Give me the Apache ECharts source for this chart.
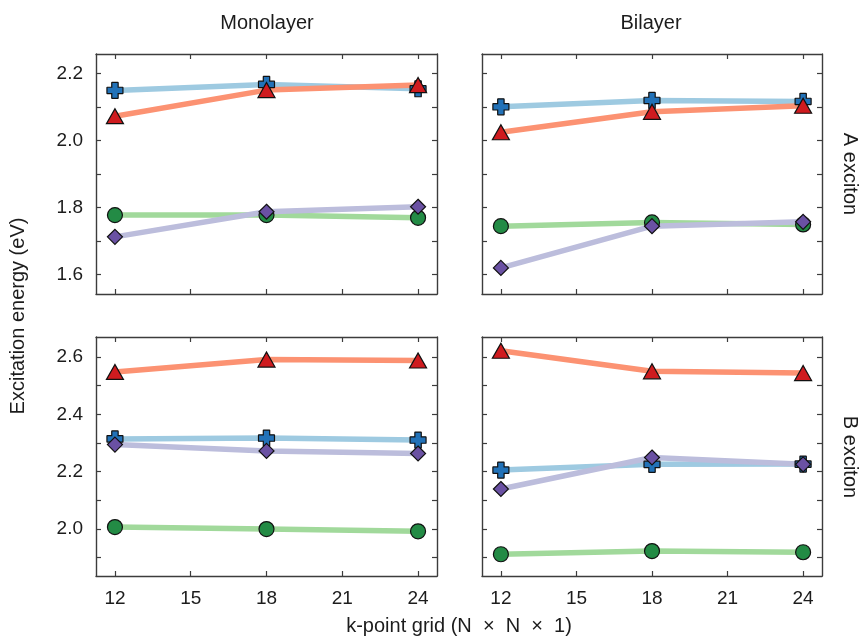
<!DOCTYPE html>
<html>
<head>
<meta charset="utf-8">
<title>Excitation energy convergence</title>
<script src="https://cdn.jsdelivr.net/npm/echarts@6/dist/echarts.min.js"></script>
<style>
  html, body { margin: 0; padding: 0; background: #ffffff; }
  #chart { width: 865px; height: 639px; }
</style>
</head>
<body>
<div id="chart"></div>
<script>
// k-point grid sizes (N x N x 1)
const kGrid = [12, 18, 24];
const xTicks = [12, 15, 18, 21, 24];

// y tick labels and tick marks for the A-exciton and B-exciton rows
const yLabelsA = [1.6, 1.8, 2.0, 2.2];
const yTicksA = [1.6, 1.7, 1.8, 1.9, 2.0, 2.1, 2.2];
const yLabelsB = [2.0, 2.2, 2.4, 2.6];
const yTicksB = [1.9, 2.0, 2.1, 2.2, 2.3, 2.4, 2.5, 2.6];

// Monolayer, A exciton (eV)
const monoA_cross = [2.150, 2.168, 2.155];
const monoA_tri   = [2.073, 2.151, 2.166];
const monoA_circ  = [1.777, 1.777, 1.769];
const monoA_diam  = [1.712, 1.787, 1.802];

// Bilayer, A exciton (eV)
const biA_cross = [2.101, 2.120, 2.117];
const biA_tri   = [2.025, 2.086, 2.104];
const biA_circ  = [1.744, 1.755, 1.749];
const biA_diam  = [1.619, 1.744, 1.757];

// Monolayer, B exciton (eV)
const monoB_cross = [2.314, 2.317, 2.310];
const monoB_tri   = [2.548, 2.591, 2.588];
const monoB_circ  = [2.006, 1.999, 1.991];
const monoB_diam  = [2.294, 2.272, 2.263];

// Bilayer, B exciton (eV)
const biB_cross = [2.205, 2.225, 2.226];
const biB_tri   = [2.622, 2.550, 2.544];
const biB_circ  = [1.911, 1.922, 1.918];
const biB_diam  = [2.139, 2.249, 2.225];

const FONT = '"Liberation Sans", Arial, Helvetica, sans-serif';
const INK = '#1c1c1c';
const FRAME = '#3c3c3c';

const CROSS = 'path://M3.2,0 H6.8 Q7,0 7,0.2 V3 H9.8 Q10,3 10,3.2 V6.8 Q10,7 9.8,7 H7 V9.8 Q7,10 6.8,10 H3.2 Q3,10 3,9.8 V7 H0.2 Q0,7 0,6.8 V3.2 Q0,3 0.2,3 H3 V0.2 Q3,0 3.2,0 Z';

// marker + line styling for each measurement family
const styles = {
  cross: { symbol: CROSS, size: 16, marker: '#2272b8', line: '#9ecae1' },
  circ:  { symbol: 'circle', size: 15, marker: '#238b45', line: '#a1d99b' },
  tri:   { symbol: 'triangle', size: [17, 15], marker: '#cf1b1f', line: '#fc9272' },
  diam:  { symbol: 'diamond', size: [15, 15], marker: '#6a51a3', line: '#bcbddc' }
};

// panel layout: [left, top, width, height]
const panels = [
  { box: [96, 54, 341, 240], y: [1.541, 2.259], labels: yLabelsA, ticks: yTicksA, showX: false,
    sets: { cross: monoA_cross, circ: monoA_circ, tri: monoA_tri, diam: monoA_diam } },
  { box: [482, 54, 340, 240], y: [1.541, 2.259], labels: null, ticks: yTicksA, showX: false,
    sets: { cross: biA_cross, circ: biA_circ, tri: biA_tri, diam: biA_diam } },
  { box: [96, 337, 341, 239], y: [1.835, 2.67], labels: yLabelsB, ticks: yTicksB, showX: true,
    sets: { cross: monoB_cross, circ: monoB_circ, tri: monoB_tri, diam: monoB_diam } },
  { box: [482, 337, 340, 239], y: [1.835, 2.67], labels: null, ticks: yTicksB, showX: true,
    sets: { cross: biB_cross, circ: biB_circ, tri: biB_tri, diam: biB_diam } }
];

const grids = [], xAxes = [], yAxes = [], series = [];
const lineCfg = { show: true, lineStyle: { color: FRAME, width: 1.4 } };
const tickCfg = (vals) => ({ show: true, inside: true, length: 5, customValues: vals,
  lineStyle: { color: FRAME, width: 1.2 } });

panels.forEach((p, i) => {
  grids.push({ left: p.box[0], top: p.box[1], width: p.box[2], height: p.box[3], containLabel: false });
  ['bottom', 'top'].forEach((pos, j) => {
    xAxes.push({
      type: 'value', gridIndex: i, position: pos, min: 11.25, max: 24.75,
      axisLine: Object.assign({ onZero: false }, lineCfg),
      axisTick: tickCfg(xTicks),
      axisLabel: {
        show: j === 0 && p.showX, customValues: xTicks, margin: 13,
        color: INK, fontFamily: FONT, fontSize: 19
      },
      splitLine: { show: false }
    });
  });
  ['left', 'right'].forEach((pos, j) => {
    yAxes.push({
      type: 'value', gridIndex: i, position: pos, min: p.y[0], max: p.y[1],
      axisLine: Object.assign({ onZero: false }, lineCfg),
      axisTick: tickCfg(p.ticks),
      axisLabel: {
        show: j === 0 && !!p.labels, customValues: p.labels || [], margin: 13,
        color: INK, fontFamily: FONT, fontSize: 19,
        formatter: (v) => v.toFixed(1)
      },
      splitLine: { show: false }
    });
  });
  ['cross', 'circ', 'tri', 'diam'].forEach((key) => {
    const s = styles[key];
    series.push({
      type: 'line', xAxisIndex: 2 * i, yAxisIndex: 2 * i,
      data: kGrid.map((k, n) => [k, p.sets[key][n]]),
      symbol: s.symbol, symbolSize: s.size, showAllSymbol: true,
      lineStyle: { color: s.line, width: 5.5, cap: 'round' },
      itemStyle: { color: s.marker, borderColor: '#111111', borderWidth: 1.2 },
      emphasis: { disabled: true },
      animation: false, silent: true
    });
  });
});

const textStyle = (t) => ({ text: t, font: '20px ' + FONT, fill: INK, align: 'center', verticalAlign: 'middle' });

const chart = echarts.init(document.getElementById('chart'), null, { renderer: 'canvas' });
chart.setOption({
  backgroundColor: '#ffffff',
  animation: false,
  grid: grids,
  xAxis: xAxes,
  yAxis: yAxes,
  series: series,
  graphic: [
    { type: 'text', x: 267, y: 23, style: textStyle('Monolayer') },
    { type: 'text', x: 651, y: 23, style: textStyle('Bilayer') },
    { type: 'text', x: 850, y: 174, rotation: -Math.PI / 2, style: textStyle('A exciton') },
    { type: 'text', x: 850, y: 457, rotation: -Math.PI / 2, style: textStyle('B exciton') },
    { type: 'text', x: 18, y: 316, rotation: Math.PI / 2, style: textStyle('Excitation energy (eV)') },
    { type: 'text', x: 459, y: 626, style: textStyle('k-point grid (N  ×  N  ×  1)') }
  ]
});
</script>
</body>
</html>
